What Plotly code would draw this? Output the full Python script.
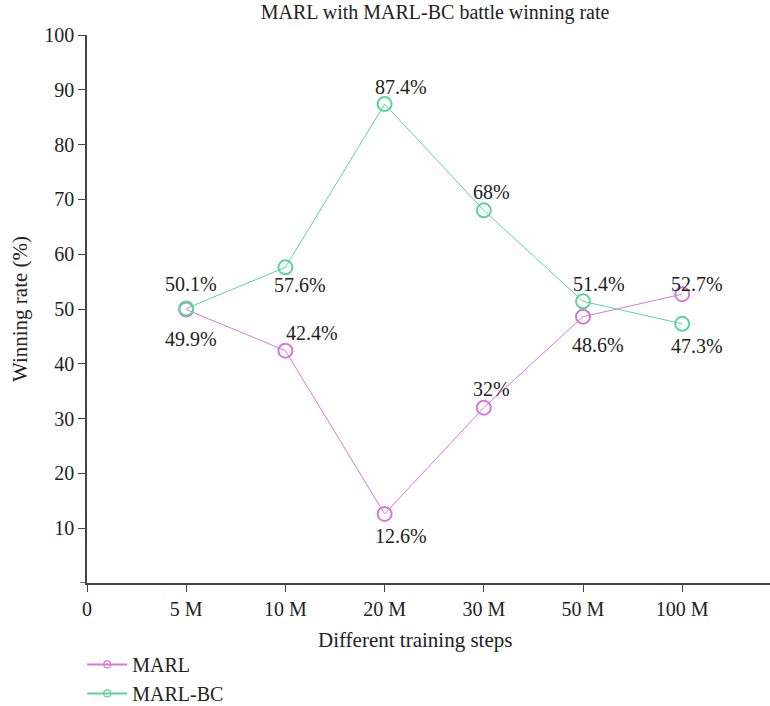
import plotly.graph_objects as go

categories = ["5 M", "10 M", "20 M", "30 M", "50 M", "100 M"]
x_tick_labels = ["0", "5 M", "10 M", "20 M", "30 M", "50 M", "100 M"]
marl = [49.9, 42.4, 12.6, 32, 48.6, 52.7]
marl_bc = [50.1, 57.6, 87.4, 68, 51.4, 47.3]

# label offsets (pixels): xshift for left edge, yshift for vertical
marl_dx = [-23, -1, -12, -13, -13, -13]
marl_dy = [-29, 18, -22, 19, -28, 10]
bc_dx = [-23, -13, -12, -13, -12, -13]
bc_dy = [24, -18, 17, 18, 17, -22]

MAG = "#d67ad6"
GRN = "#5cd59b"
FONT = "Liberation Serif"
TXT = "#222"

xpos = list(range(1, len(categories) + 1))

fig = go.Figure()
for name, vals, col in [("MARL", marl, MAG), ("MARL-BC", marl_bc, GRN)]:
    fig.add_trace(go.Scatter(
        x=xpos, y=vals, mode="lines+markers", name=name, showlegend=False,
        line=dict(color=col, width=1),
        marker=dict(symbol="circle-open", size=14, color=col, line=dict(width=2, color=col)),
    ))
    # legend entry with small marker
    fig.add_trace(go.Scatter(
        x=[None], y=[None], mode="lines+markers", name=name, showlegend=True,
        line=dict(color=col, width=2),
        marker=dict(symbol="circle-open", size=7, color=col, line=dict(width=1.2, color=col)),
    ))

def fmt(v):
    return f"{v:g}%"

for vals, dxs, dys in [(marl, marl_dx, marl_dy), (marl_bc, bc_dx, bc_dy)]:
    for xi, v, dx, dy in zip(xpos, vals, dxs, dys):
        fig.add_annotation(x=xi, y=v, text=fmt(v), showarrow=False,
                           xanchor="left", yanchor="middle", xshift=dx, yshift=dy,
                           font=dict(family=FONT, size=20, color=TXT))

# x-axis title (slightly left of plot centre, as in the reference)
fig.add_annotation(text="Different training steps", xref="paper", yref="paper",
                   x=0.48, y=-0.104, xanchor="center", yanchor="middle", showarrow=False,
                   font=dict(family=FONT, size=21, color=TXT))

# short extension of x axis line to the left of y axis
fig.add_shape(type="line", xref="paper", yref="y", x0=-0.010, x1=0, y0=0, y1=0,
              line=dict(color="#444", width=1.5))

fig.update_layout(
    width=770, height=706,
    margin=dict(l=87, r=0, t=35, b=123, autoexpand=False),
    paper_bgcolor="white", plot_bgcolor="white",
    font=dict(family=FONT, size=20, color=TXT),
    title=dict(text="MARL with MARL-BC battle winning rate", x=0.565, xref="container",
               xanchor="center", y=0.983, yref="container", yanchor="middle",
               font=dict(family=FONT, size=20, color=TXT)),
    showlegend=True,
    legend=dict(orientation="v", x=-0.007, xanchor="left", y=-0.113, yanchor="top",
                font=dict(family=FONT, size=20, color=TXT), itemwidth=40,
                bgcolor="rgba(0,0,0,0)", tracegroupgap=0),
    xaxis=dict(range=[0, 6.885], tickmode="array", tickvals=list(range(len(x_tick_labels))),
               ticktext=x_tick_labels, showline=True, linecolor="#444", linewidth=1.5,
               ticks="outside", ticklen=7, tickcolor="#444", showgrid=False, zeroline=False,
               automargin=False, tickfont=dict(family=FONT, size=20, color=TXT)),
    yaxis=dict(range=[0, 100], tickvals=[10, 20, 30, 40, 50, 60, 70, 80, 90, 100],
               showline=True, linecolor="#444", linewidth=1.5,
               ticks="outside", ticklen=7, tickcolor="#444", showgrid=False, zeroline=False,
               automargin=False, tickfont=dict(family=FONT, size=20, color=TXT),
               title=dict(text="Winning rate (%)", font=dict(family=FONT, size=21, color=TXT),
                          standoff=11)),
)

fig.write_html("out.html", config={"displayModeBar": False},
               post_script="document.body.style.margin='0px';")
